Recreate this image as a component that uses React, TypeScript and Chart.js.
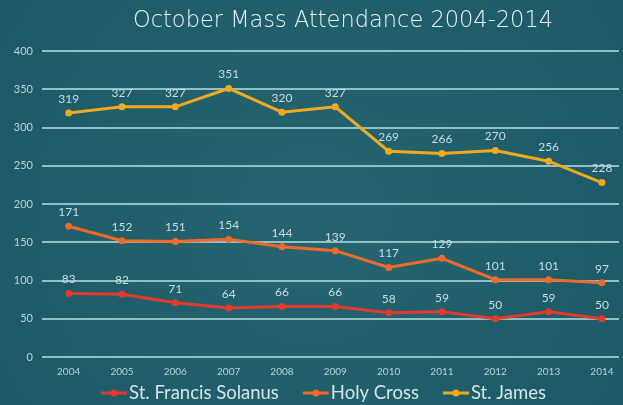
import React, { useEffect, useRef } from "react";
import { Chart, registerables } from "chart.js";

Chart.register(...registerables);

const years = [2004, 2005, 2006, 2007, 2008, 2009, 2010, 2011, 2012, 2013, 2014];
const stFrancis = [83, 82, 71, 64, 66, 66, 58, 59, 50, 59, 50];
const holyCross = [171, 152, 151, 154, 144, 139, 117, 129, 101, 101, 97];
const stJames = [319, 327, 327, 351, 320, 327, 269, 266, 270, 256, 228];
const seriesNames = ["St. Francis Solanus", "Holy Cross", "St. James"];
const seriesColors = ["#e23b2c", "#ef6a28", "#f0aa20"];
const titleText = "October Mass Attendance 2004-2014";

const FONT = "Lato, 'DejaVu Sans', sans-serif";

const bgPlugin = {
  id: "bg",
  beforeDraw(chart: any) {
    const { ctx, width, height } = chart;
    ctx.save();
    const g = ctx.createRadialGradient(width * 0.5, height * 0.55, 50, width * 0.5, height * 0.5, width * 0.75);
    g.addColorStop(0, "#24636f");
    g.addColorStop(1, "#1b5664");
    ctx.fillStyle = g;
    ctx.fillRect(0, 0, width, height);
    ctx.restore();
  },
};

const decorPlugin = {
  id: "decor",
  afterDatasetsDraw(chart: any) {
    const { ctx, width } = chart;
    ctx.save();
    // data labels
    ctx.font = `12px ${FONT}`;
    ctx.fillStyle = "#c6dde0";
    ctx.textAlign = "center";
    ctx.textBaseline = "bottom";
    chart.data.datasets.forEach((ds: any, i: number) => {
      const meta = chart.getDatasetMeta(i);
      meta.data.forEach((pt: any, j: number) => {
        const v = ds.data[j].y;
        ctx.fillText(String(v), pt.x, pt.y - 8);
      });
    });
    // title
    ctx.font = `200 22.5px 'DejaVu Sans', ${FONT}`;
    ctx.fillStyle = "#eaf3f4";
    ctx.textBaseline = "middle";
    ctx.textAlign = "center";
    ctx.fillText(titleText, 343, 21);
    // legend
    ctx.font = `18.5px ${FONT}`;
    const lineW = 26;
    const gap = 24;
    const items = chart.data.datasets.map((ds: any) => ({
      label: ds.label,
      color: ds.borderColor,
      w: lineW + 2 + ctx.measureText(ds.label).width,
    }));
    const total = items.reduce((s: number, it: any) => s + it.w, 0) + gap * (items.length - 1);
    let x = width / 2 + 12 - total / 2;
    const y = 393;
    items.forEach((it: any) => {
      ctx.strokeStyle = it.color;
      ctx.lineWidth = 3;
      ctx.beginPath();
      ctx.moveTo(x, y);
      ctx.lineTo(x + lineW, y);
      ctx.stroke();
      ctx.fillStyle = it.color;
      ctx.beginPath();
      ctx.arc(x + lineW / 2, y, 3.5, 0, Math.PI * 2);
      ctx.fill();
      ctx.fillStyle = "#d2e6e8";
      ctx.textAlign = "left";
      ctx.textBaseline = "middle";
      ctx.fillText(it.label, x + lineW + 2, y);
      x += it.w + gap;
    });
    ctx.restore();
  },
};

export default function App() {
  const ref = useRef<HTMLCanvasElement>(null);
  useEffect(() => {
    if (!ref.current) return;
    const all = [stFrancis, holyCross, stJames];
    const chart = new Chart(ref.current, {
      type: "line",
      data: {
        datasets: all.map((vals, i) => ({
          label: seriesNames[i],
          data: years.map((yr, j) => ({ x: yr, y: vals[j] })),
          borderColor: seriesColors[i],
          backgroundColor: seriesColors[i],
          borderWidth: 3,
          pointRadius: 3.5,
          pointBorderWidth: 0,
          tension: 0,
        })),
      },
      options: {
        animation: false,
        responsive: false,
        maintainAspectRatio: false,
        layout: { padding: { top: 51, left: 0, right: 0, bottom: 0 } },
        plugins: {
          legend: { display: false },
          title: { display: false },
          tooltip: { enabled: false },
        },
        scales: {
          x: {
            type: "linear",
            min: 2003.5,
            max: 2014.32,
            afterFit: (s: any) => {
              s.height = 48;
            },
            afterBuildTicks: (s: any) => {
              s.ticks = years.map((y) => ({ value: y }));
            },
            grid: { display: false, drawTicks: false },
            border: { display: false },
            ticks: {
              padding: 9,
              color: "#b9d3d7",
              font: { family: FONT, size: 10 },
              callback: (v: any) => String(v),
              autoSkip: false,
              maxRotation: 0,
            },
          },
          y: {
            min: 0,
            max: 400,
            afterFit: (s: any) => {
              s.width = 42;
            },
            grid: { color: "#8ec0c6", lineWidth: 2, drawTicks: false },
            border: { display: false },
            ticks: {
              stepSize: 50,
              padding: 9,
              color: "#b9d3d7",
              font: { family: FONT, size: 11 },
            },
          },
        },
      },
      plugins: [bgPlugin, decorPlugin],
    });
    return () => chart.destroy();
  }, []);
  return (
    <div style={{ position: "fixed", left: 0, top: 0, width: 623, height: 405 }}>
      <canvas ref={ref} width={623} height={405} style={{ display: "block" }} />
    </div>
  );
}
